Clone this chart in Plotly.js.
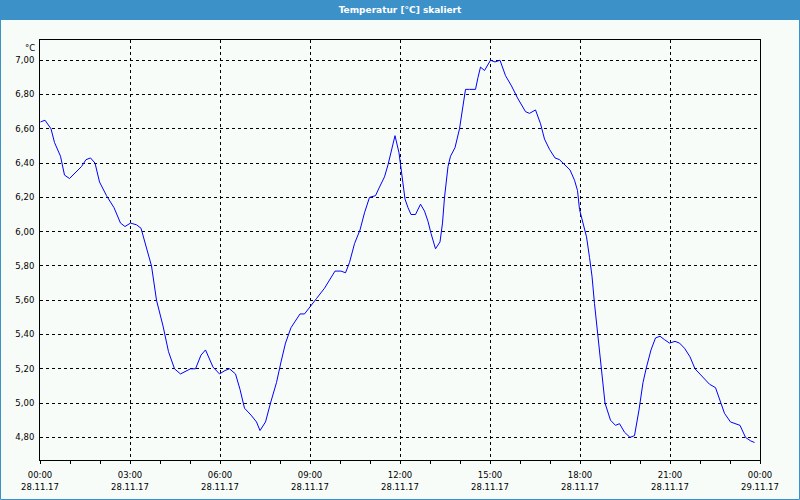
<!DOCTYPE html>
<html>
<head>
<meta charset="utf-8">
<script src="https://cdn.plot.ly/plotly-3.0.1.min.js"></script>
<style>
html,body{margin:0;padding:0;background:#f8fcf8;}
#chart{width:800px;height:500px;}
</style>
</head>
<body>
<div id="chart"></div>
<script>
// Time of day (28.11.17) and temperature in °C
const times = [
"00:01","00:10","00:22","00:29","00:41","00:49","00:59","01:10","01:23","01:32","01:41","01:50","01:59",
"02:13","02:28","02:41","02:50","03:01","03:13","03:22","03:32","03:43","03:53","04:06","04:17","04:29",
"04:41","04:53","05:01","05:11","05:22","05:31","05:46","05:59","06:10","06:19","06:31","06:40","06:49",
"07:02","07:13","07:20","07:31","07:41","07:53","08:02","08:11","08:22","08:29","08:40","08:49","08:59",
"09:13","09:29","09:41","09:50","10:02","10:11","10:19","10:29","10:40","10:49","10:59","11:11","11:19",
"11:29","11:36","11:43","11:50","11:58","12:04","12:10","12:16","12:22","12:31","12:41","12:49","12:56",
"13:02","13:11","13:20","13:25","13:29","13:36","13:41","13:50","13:59","14:06","14:11","14:19","14:31",
"14:36","14:41","14:49","15:01","15:10","15:20","15:31","15:43","15:55","16:04","16:11","16:19","16:31",
"16:41","16:49","16:59","17:10","17:19","17:29","17:40","17:49","17:55","17:59","18:06","18:13","18:19",
"18:24","18:29","18:35","18:40","18:44","18:50","19:01","19:11","19:19","19:29","19:40","19:49","19:58",
"20:06","20:13","20:22","20:31","20:40","20:49","20:59","21:10","21:19","21:29","21:40","21:50","21:59",
"22:10","22:19","22:31","22:40","22:49","23:01","23:11","23:20","23:31","23:41","23:49"
];
const temps = [
6.64,6.65,6.60,6.52,6.44,6.33,6.31,6.34,6.38,6.42,6.43,6.40,6.29,
6.21,6.14,6.05,6.03,6.05,6.04,6.02,5.91,5.80,5.60,5.45,5.30,5.20,
5.17,5.19,5.20,5.20,5.28,5.31,5.21,5.17,5.19,5.20,5.17,5.08,4.97,
4.93,4.89,4.84,4.89,5.00,5.12,5.24,5.35,5.44,5.47,5.52,5.52,5.56,
5.61,5.67,5.73,5.77,5.77,5.76,5.82,5.93,6.01,6.11,6.20,6.21,6.26,
6.32,6.39,6.47,6.56,6.46,6.34,6.19,6.14,6.10,6.10,6.16,6.12,6.06,
5.99,5.90,5.94,6.05,6.20,6.38,6.44,6.49,6.60,6.74,6.83,6.83,6.83,
6.90,6.96,6.94,7.00,6.99,7.00,6.91,6.85,6.78,6.73,6.70,6.69,6.71,
6.63,6.54,6.48,6.43,6.42,6.39,6.36,6.30,6.24,6.13,6.05,5.97,5.85,
5.74,5.58,5.41,5.27,5.13,5.00,4.90,4.87,4.88,4.83,4.80,4.81,4.96,
5.12,5.21,5.31,5.38,5.39,5.37,5.35,5.36,5.35,5.32,5.27,5.20,5.17,
5.14,5.11,5.09,5.02,4.94,4.89,4.88,4.87,4.80,4.78,4.77
];
const dayDate = "2017-11-28";
const titleText = "Temperatur [°C] skaliert";
const unitLabel = "°C";

const xs = times.map(t => dayDate + " " + t);

const W = 800, H = 500, mL = 40, mR = 40, mT = 40, mB = 40;
const pw = W - mL - mR, ph = H - mT - mB;
const px = v => (v - mL) / pw;
const py = v => (H - mB - v) / ph;

const xRange = ["2017-11-28 00:00", "2017-11-29 00:00"];
const fontFam = "DejaVu Sans, Verdana, sans-serif";
const tickFont = {family: fontFam, size: 8.5, color: "#000000"};

const trace = {
  x: xs, y: temps, type: "scatter", mode: "lines",
  line: {color: "#0000ff", width: 1}, hoverinfo: "skip"
};

const layout = {
  width: W, height: H,
  margin: {l: mL, r: mR, t: mT, b: mB, pad: 0},
  paper_bgcolor: "#f8fcf8", plot_bgcolor: "#f8fcf8",
  separators: ",.",
  showlegend: false,
  title: {text: titleText, font: {family: fontFam, size: 9, color: "#ffffff", weight: "bold"},
          x: 0.5, xanchor: "center", xref: "container", y: 1 - 10/H, yanchor: "middle", yref: "container"},
  xaxis: {
    type: "date", range: xRange, dtick: 3*3600000, tick0: "2017-11-28 00:00",
    tickformat: "%H:%M", ticks: "outside", ticklen: 3, tickcolor: "#000", tickwidth: 1,
    showline: true, linecolor: "#000", linewidth: 1, mirror: true,
    showgrid: true, gridcolor: "#000", gridwidth: 1, griddash: "3px,3px",
    zeroline: false, tickfont: tickFont, ticklabelstandoff: 4,
    minor: {dtick: 3600000, ticks: "outside", ticklen: 3, tickcolor: "#000", showgrid: false}
  },
  xaxis2: {
    type: "date", range: xRange, dtick: 3*3600000, tick0: "2017-11-28 00:00",
    overlaying: "x", side: "bottom", anchor: "y",
    tickformat: "%d.%m.%y", ticks: "", showline: false, showgrid: false, zeroline: false,
    tickfont: tickFont, ticklabelstandoff: 20
  },
  yaxis: {
    range: [4.668, 7.118], dtick: 0.2, tick0: 0, tickformat: ".2f",
    ticks: "", showline: true, linecolor: "#000", linewidth: 1, mirror: true,
    showgrid: true, gridcolor: "#000", gridwidth: 1, griddash: "3px,3px",
    zeroline: false, tickfont: tickFont, ticklabelstandoff: 3
  },
  shapes: [
    {type: "rect", xref: "paper", yref: "paper", x0: px(0), x1: px(W), y0: py(20), y1: py(0),
     fillcolor: "#3d91c9", line: {width: 0}, layer: "below"},
    {type: "rect", xref: "paper", yref: "paper", x0: px(0.5), x1: px(W-0.5), y0: py(H-0.5), y1: py(0.5),
     fillcolor: "rgba(0,0,0,0)", line: {color: "#3d91c9", width: 1}, layer: "below"}
  ],
  annotations: [
    {text: unitLabel, xref: "paper", yref: "paper", x: 0, y: 1, xanchor: "right", yanchor: "top",
     xshift: -3, yshift: -1, showarrow: false, font: tickFont}
  ]
};

Plotly.newPlot("chart", [trace, {x: [xRange[0]], y: [null], xaxis: "x2", type: "scatter", mode: "lines", hoverinfo: "skip", showlegend: false}], layout, {displayModeBar: false, staticPlot: true});
</script>
</body>
</html>
